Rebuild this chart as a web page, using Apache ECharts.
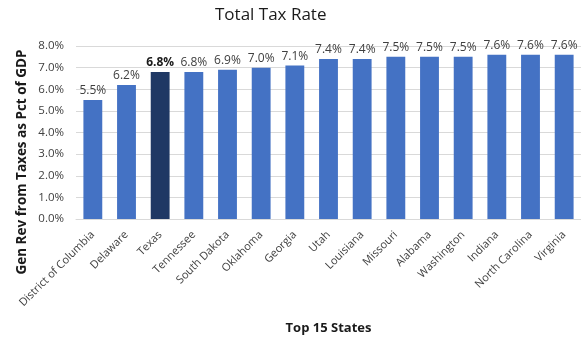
<!DOCTYPE html>
<html><head><meta charset="utf-8">
<script src="https://cdn.jsdelivr.net/npm/echarts@6/dist/echarts.min.js"></script>
<style>html,body{margin:0;padding:0;background:#fff}#c{width:581px;height:348px}</style>
</head><body><div id="c"></div>
<script>
var states = ["District of Columbia","Delaware","Texas","Tennessee","South Dakota","Oklahoma","Georgia","Utah","Louisiana","Missouri","Alabama","Washington","Indiana","North Carolina","Virginia"];
var rates = [5.5,6.2,6.8,6.8,6.9,7.0,7.1,7.4,7.4,7.5,7.5,7.5,7.6,7.6,7.6];
var highlight = "Texas";
var yTicks = [0,1,2,3,4,5,6,7,8];
var yTitle = "Gen Rev from Taxes as Pct of GDP";

var FONT = "'Open Sans', 'Liberation Sans', sans-serif";
var chart = echarts.init(document.getElementById('c'));
chart.setOption({
  animation: false,
  textStyle: {fontFamily: FONT},
  title: {text: "Total Tax Rate", left: 210, top: 2,
    textStyle: {fontFamily: FONT, fontSize: 17, fontWeight: 'normal', color: '#1a1a1a'}},
  graphic: [{
    type: 'text', x: 22, y: 162, rotation: Math.PI / 2,
    style: {text: yTitle, font: "bold 13.5px " + FONT, fill: '#1a1a1a',
      textAlign: 'center', textVerticalAlign: 'middle'}
  }],
  grid: {left: 76, right: 0, top: 46, bottom: 129},
  xAxis: {
    type: 'category', data: states,
    name: "Top 15 States", nameLocation: 'middle', nameGap: 103,
    nameTextStyle: {fontFamily: FONT, fontSize: 13, fontWeight: 'bold', color: '#1a1a1a'},
    axisTick: {show: false},
    axisLine: {lineStyle: {color: '#d9d9d9'}},
    axisLabel: {rotate: 45, interval: 0, fontSize: 11, color: '#404040', margin: 14}
  },
  yAxis: {
    type: 'value', min: yTicks[0], max: yTicks[yTicks.length-1], interval: 1,
    axisLine: {show: false}, axisTick: {show: false},
    splitLine: {lineStyle: {color: '#d9d9d9'}},
    axisLabel: {fontSize: 11.5, color: '#404040', margin: 12, formatter: function(v){return v.toFixed(1)+'%';}}
  },
  series: [{
    type: 'bar', barWidth: '56%',
    data: rates.map(function(v, i){
      var hi = states[i] === highlight;
      return {value: v,
        itemStyle: {color: hi ? '#1f3864' : '#4472c4'},
        label: {fontWeight: hi ? 'bold' : 'normal', color: hi ? '#1a1a1a' : '#404040'}};
    }),
    label: {show: true, position: 'top', distance: 3, fontSize: 12, fontFamily: FONT,
      formatter: function(p){return p.value.toFixed(1)+'%';}}
  }]
});
</script></body></html>
